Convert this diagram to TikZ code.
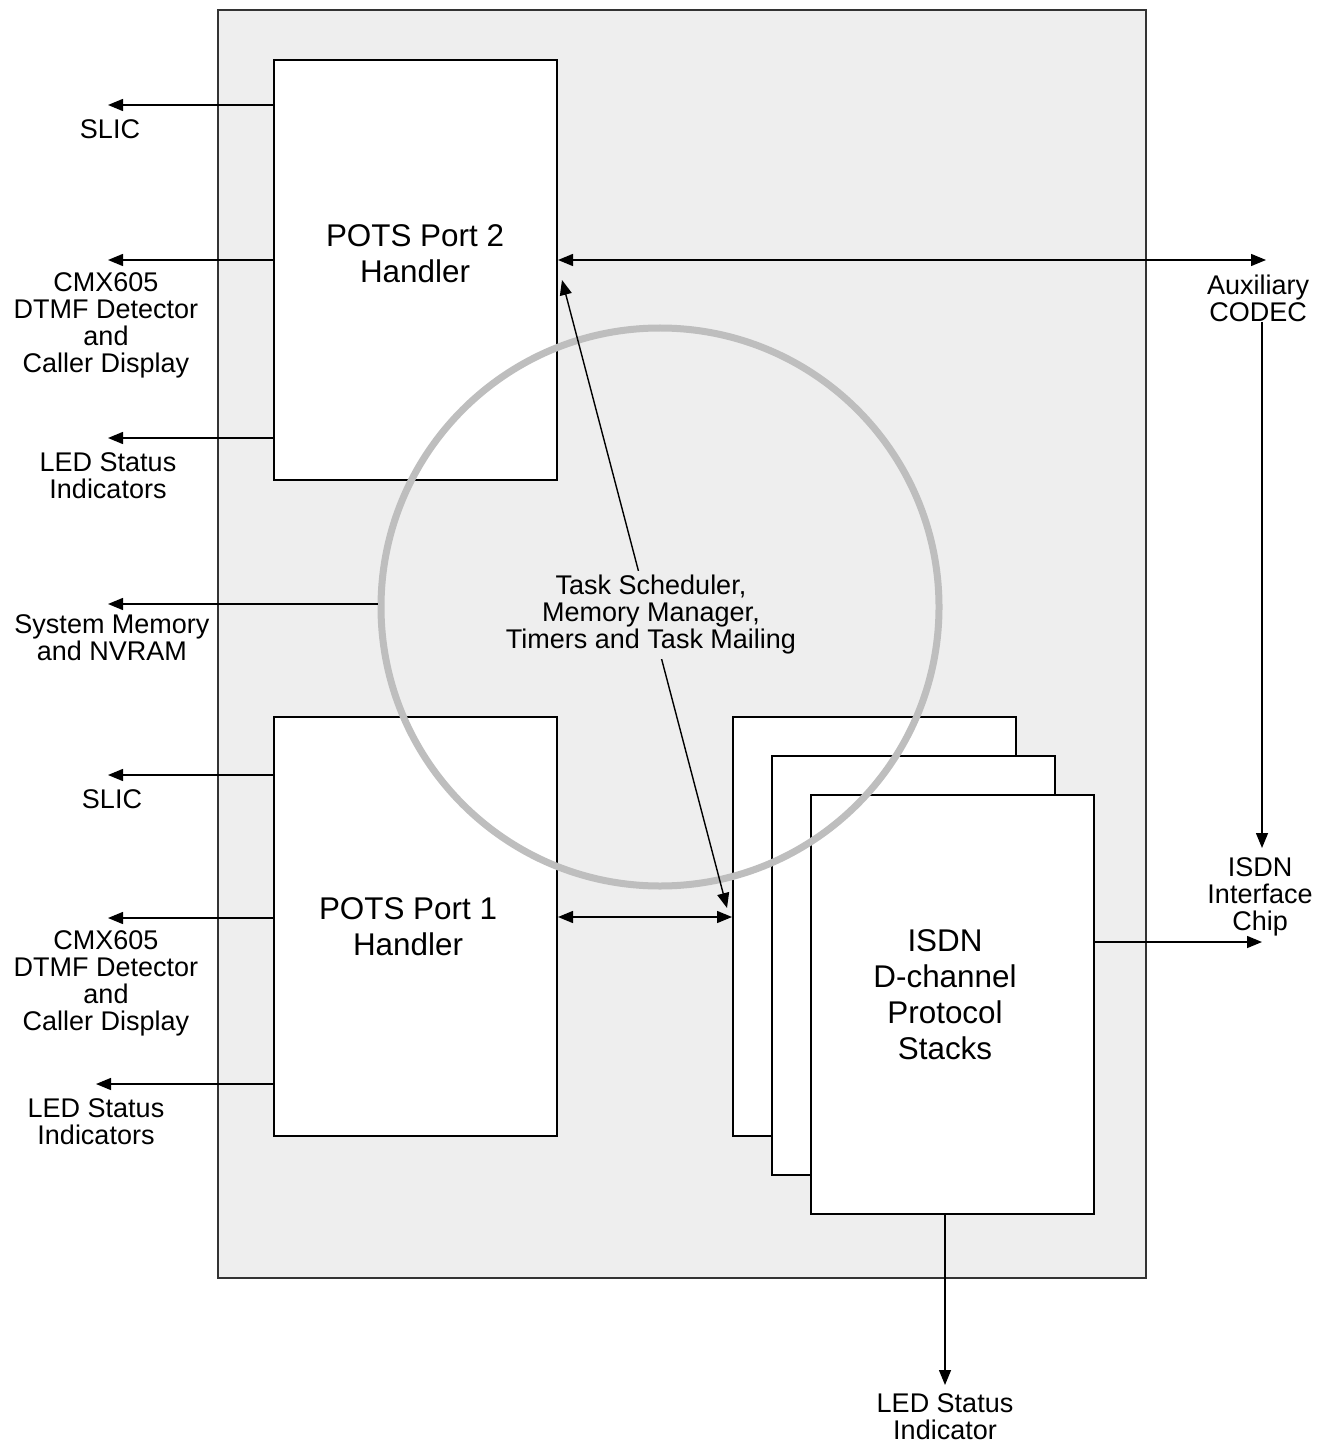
\documentclass[tikz,border=0pt]{standalone}
\usepackage{fontspec}
\setmainfont{Liberation Sans}
\usetikzlibrary{arrows.meta}
\definecolor{panelFill}{HTML}{EEEEEE}
\definecolor{frameLine}{HTML}{333333}
\definecolor{ringLine}{HTML}{BEBEBE}
\begin{document}
\begin{tikzpicture}[x=0.5pt,y=-0.5pt,
          every node/.style={align=center,inner sep=0pt},
          block/.style={draw=black,line width=1pt,fill=white,
                        minimum width=141.5pt,minimum height=209.5pt},
          bigtext/.style={font=\fontsize{15.7pt}{18pt}\selectfont},
          smalltext/.style={font=\fontsize{13.5pt}{13.5pt}\selectfont},
          arr/.style={line width=0.7pt,-{Triangle[length=7.5pt,width=6pt]}},
          dblarr/.style={line width=0.7pt,{Triangle[length=7.5pt,width=6pt]}-{Triangle[length=7.5pt,width=6pt]}},
        ]
        \useasboundingbox (0,0) rectangle (1330,1443);
        % outer panel
        \node[draw=frameLine,line width=1pt,fill=panelFill,
              minimum width=464pt,minimum height=634pt] (panel) at (682,644) {};
        % handlers
        \node[block] (pots2) at (415.5,270) {};
        \node[block] (pots1) at (415.5,926.5) {};
        % stacked ISDN boxes
        \node[block] (stackA) at (874.5,926.5) {};
        \node[block] (stackB) at (913,965.5) {};
        \node[block] (stackC) at (952,1004.5) {};
        % kernel ring
        \node[draw=ringLine,line width=3.5pt,circle,minimum size=279pt] (ring) at (660,607) {};
        % outside ends
        \coordinate (slic2tip) at (108,105);
        \coordinate (cmx2tip) at (108,260);
        \coordinate (led2tip) at (108,438);
        \coordinate (memtip) at (108,604);
        \coordinate (slic1tip) at (108,775);
        \coordinate (cmx1tip) at (108,918);
        \coordinate (led1tip) at (96,1084);
        \coordinate (codectip) at (1266,260);
        \coordinate (codecfoot) at (1262,322);
        \coordinate (chiptip) at (1262,848);
        \coordinate (chipin) at (1262,942);
        \coordinate (ledisdntip) at (945,1385);
        \coordinate (diagtop) at (562,280);
        \coordinate (diagbot) at (727,908);
        % connectors
        \draw[arr] (slic2tip -| pots2.west) -- (slic2tip);
        \draw[arr] (cmx2tip -| pots2.west) -- (cmx2tip);
        \draw[arr] (led2tip -| pots2.west) -- (led2tip);
        \draw[arr] (memtip -| ring.west) -- (memtip);
        \draw[arr] (slic1tip -| pots1.west) -- (slic1tip);
        \draw[arr] (cmx1tip -| pots1.west) -- (cmx1tip);
        \draw[arr] (led1tip -| pots1.west) -- (led1tip);
        \draw[dblarr] (codectip -| pots2.east) -- (codectip);
        \draw[arr] (codecfoot) -- (chiptip);
        \draw[arr] (chipin -| stackC.east) -- (chipin);
        \draw[arr] (ledisdntip |- stackC.south) -- (ledisdntip);
        \draw[dblarr] (pots1.east |- 0,917) -- (stackA.west |- 0,917);
        \draw[dblarr] (diagtop) -- (diagbot);
        % texts
        \node[bigtext] (pots2txt) at (415,254) {POTS Port 2\\Handler};
        \node[bigtext] (pots1txt) at (408,927) {POTS Port 1\\Handler};
        \node[bigtext] (isdntxt) at (945,995) {ISDN\\D-channel\\Protocol\\Stacks};
        \node[smalltext,fill=panelFill,inner ysep=2pt] (ringtxt) at (651,615) {Task Scheduler,\\Memory Manager,\\Timers and Task Mailing};
        \node[smalltext] (slic2) at (110,129) {SLIC};
        \node[smalltext] (cmx2) at (106,325) {CMX605\\DTMF Detector\\and\\Caller Display};
        \node[smalltext] (led2) at (108,476) {LED Status\\Indicators};
        \node[smalltext] (mem) at (112,638) {System Memory\\and NVRAM};
        \node[smalltext] (slic1) at (112,799) {SLIC};
        \node[smalltext] (cmx1) at (106,983) {CMX605\\DTMF Detector\\and\\Caller Display};
        \node[smalltext] (led1) at (96,1122) {LED Status\\Indicators};
        \node[smalltext] (codec) at (1258,298) {Auxiliary\\CODEC};
        \node[smalltext] (chip) at (1260,897) {ISDN\\Interface\\Chip};
        \node[smalltext] (ledisdn) at (945,1417) {LED Status\\Indicator};
      \end{tikzpicture}
\end{document}
